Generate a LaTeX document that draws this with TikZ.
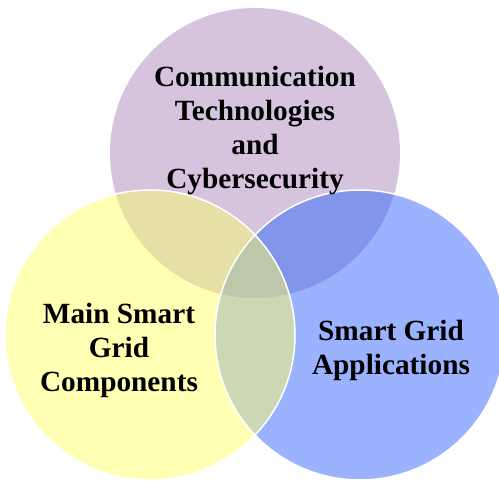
\documentclass[tikz,border=0pt]{standalone}
\usepackage{fontspec}
\setmainfont{Liberation Serif}

\definecolor{commfill}{HTML}{D6C4DF}
\definecolor{mainfill}{HTML}{FFFFB4}
\definecolor{appsfill}{HTML}{9BB3FE}
\definecolor{commmain}{HTML}{E6DFA6}
\definecolor{commapps}{HTML}{8395EA}
\definecolor{mainapps}{HTML}{CCD7B4}
\definecolor{allthree}{HTML}{BDC7AA}

\tikzset{
  venn label/.style={font=\fontsize{29.3}{34}\selectfont\bfseries, align=center, text=black},
  ring edge/.style={draw=white, line width=1.5pt}
}

\begin{document}
\begin{tikzpicture}[x=1pt,y=1pt]
\useasboundingbox (0,0) rectangle (499,481);

% Centres of the three circles
\coordinate (comm) at (255,328);
\coordinate (main) at (150,146);
\coordinate (apps) at (360,146);
\def\rad{145}

% Plain circles
\fill[commfill] (comm) circle (\rad);
\fill[mainfill] (main) circle (\rad);
\fill[appsfill] (apps) circle (\rad);

% Overlaps with the top circle
\begin{scope}
\clip (comm) circle (\rad);
\fill[commmain] (main) circle (\rad);
\fill[commapps] (apps) circle (\rad);
\end{scope}

% Overlap of the lower circles, and of all three
\begin{scope}
\clip (main) circle (\rad);
\fill[mainapps] (apps) circle (\rad);
\clip (comm) circle (\rad);
\fill[allthree] (apps) circle (\rad);
\end{scope}

% White rims on the lower circles
\draw[ring edge] (main) circle (\rad);
\draw[ring edge] (apps) circle (\rad);

% Labels
\node[venn label] (commtext) at (255,350) {Communication\\Technologies\\and\\Cybersecurity};
\node[venn label] (maintext) at (119,131) {Main Smart\\Grid\\Components};
\node[venn label] (appstext) at (391,131) {Smart Grid\\Applications};

\end{tikzpicture}
\end{document}
